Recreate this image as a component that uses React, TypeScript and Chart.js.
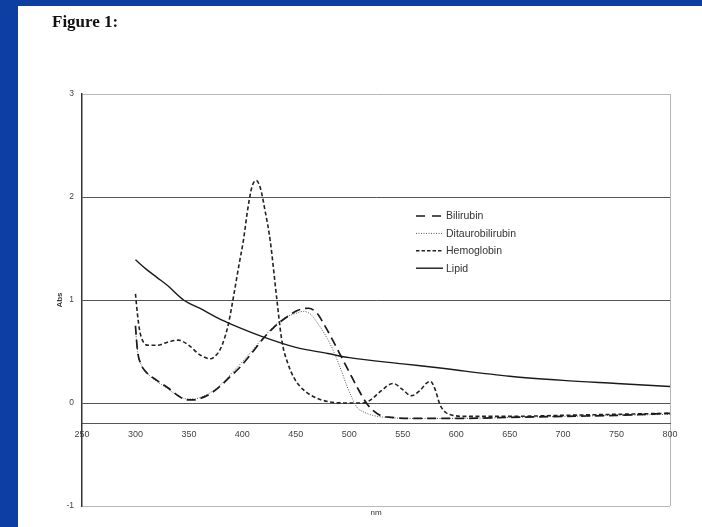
import React, { useEffect, useRef } from "react";
import { Chart, registerables } from "chart.js";

Chart.register(...registerables);

// ---- data ----
const bilirubinNm = [300, 302, 305, 310, 320, 330, 340, 348, 355, 362, 370, 380, 390, 398, 410, 419, 430, 441, 452, 462, 470, 476, 484, 491, 500, 507, 516, 522, 529, 540, 560, 580, 600, 650, 700, 750, 800];
const bilirubinAbs = [0.75, 0.5, 0.38, 0.3, 0.22, 0.15, 0.07, 0.03, 0.03, 0.05, 0.09, 0.17, 0.27, 0.35, 0.5, 0.62, 0.74, 0.83, 0.9, 0.92, 0.87, 0.77, 0.62, 0.48, 0.3, 0.16, 0.0, -0.07, -0.12, -0.14, -0.15, -0.15, -0.15, -0.14, -0.13, -0.12, -0.1];

const ditauroNm = [300, 302, 305, 310, 320, 330, 340, 348, 355, 362, 370, 380, 390, 400, 410, 420, 430, 440, 450, 457, 464, 470, 477, 485, 492, 498, 503, 507, 514, 522, 535, 560, 600, 650, 700, 750, 800];
const ditauroAbs = [0.72, 0.5, 0.38, 0.3, 0.21, 0.14, 0.07, 0.04, 0.04, 0.06, 0.1, 0.18, 0.29, 0.4, 0.52, 0.64, 0.75, 0.83, 0.87, 0.89, 0.86, 0.78, 0.67, 0.51, 0.33, 0.16, 0.04, -0.04, -0.09, -0.12, -0.14, -0.15, -0.15, -0.14, -0.13, -0.12, -0.11];

const hemoglobinNm = [300, 302, 304, 307, 312, 320, 330, 340, 350, 360, 370, 376, 381, 387, 392, 397, 401, 405, 409, 413, 417, 421, 426, 432, 437, 442, 448, 454, 465, 482, 500, 513, 520, 530, 541, 550, 558, 566, 572, 576, 580, 585, 590, 597, 610, 650, 700, 750, 800];
const hemoglobinAbs = [1.06, 0.85, 0.7, 0.6, 0.56, 0.56, 0.59, 0.61, 0.56, 0.47, 0.43, 0.47, 0.56, 0.77, 1.05, 1.35, 1.58, 1.88, 2.1, 2.16, 2.08, 1.88, 1.58, 1.03, 0.6, 0.4, 0.25, 0.16, 0.07, 0.01, 0.0, 0.0, 0.03, 0.12, 0.19, 0.13, 0.07, 0.12, 0.19, 0.21, 0.14, -0.02, -0.09, -0.12, -0.13, -0.13, -0.12, -0.11, -0.1];

const lipidNm = [300, 310, 320, 330, 345, 360, 380, 400, 420, 450, 480, 500, 550, 585, 600, 650, 700, 750, 800];
const lipidAbs = [1.39, 1.3, 1.22, 1.14, 1.0, 0.92, 0.81, 0.72, 0.64, 0.54, 0.48, 0.44, 0.38, 0.34, 0.32, 0.26, 0.22, 0.19, 0.16];

const seriesLabels = ["Bilirubin", "Ditaurobilirubin", "Hemoglobin", "Lipid"];
const xMin = 250;
const xMax = 800;
const xStep = 50;
const yMin = -1;
const yMax = 3;
const yStep = 1;
const xAxisCross = -0.2;

const toPoints = (xs: number[], ys: number[]) => xs.map((x, i) => ({ x, y: ys[i] }));

const legendPlugin = {
  id: "sideLegend",
  afterDraw(chart: any) {
    const ctx = chart.ctx;
    const x0 = 416;
    const x1 = 443;
    const y0 = 216;
    const dy = 17.4;
    ctx.save();
    chart.data.datasets.forEach((ds: any, i: number) => {
      const y = y0 + i * dy;
      ctx.beginPath();
      ctx.setLineDash(ds.legendDash || ds.borderDash || []);
      ctx.lineWidth = ds.borderWidth;
      ctx.strokeStyle = ds.borderColor;
      ctx.moveTo(x0, y);
      ctx.lineTo(x1, y);
      ctx.stroke();
      ctx.setLineDash([]);
      ctx.fillStyle = "#333";
      ctx.font = "10.5px 'Liberation Sans', Arial, sans-serif";
      ctx.textBaseline = "middle";
      ctx.textAlign = "left";
      ctx.fillText(ds.label, x1 + 3, y + 0.5);
    });
    ctx.restore();
  },
};

export default function App() {
  const canvasRef = useRef<HTMLCanvasElement | null>(null);

  useEffect(() => {
    if (!canvasRef.current) return;
    const chart = new Chart(canvasRef.current, {
      type: "line",
      data: {
        datasets: [
          {
            label: seriesLabels[0],
            data: toPoints(bilirubinNm, bilirubinAbs),
            borderColor: "#1a1a1a",
            borderWidth: 1.7,
            borderDash: [9, 5],
            legendDash: [9, 7],
          } as any,
          {
            label: seriesLabels[1],
            data: toPoints(ditauroNm, ditauroAbs),
            borderColor: "#555",
            borderWidth: 1,
            borderDash: [1, 1.5],
          },
          {
            label: seriesLabels[2],
            data: toPoints(hemoglobinNm, hemoglobinAbs),
            borderColor: "#222",
            borderWidth: 1.6,
            borderDash: [4, 2.5],
            legendDash: [3.5, 2],
          } as any,
          {
            label: seriesLabels[3],
            data: toPoints(lipidNm, lipidAbs),
            borderColor: "#1a1a1a",
            borderWidth: 1.4,
          },
        ],
      },
      options: {
        animation: false,
        responsive: false,
        maintainAspectRatio: false,
        parsing: false as any,
        layout: { padding: { left: 0, top: 94, right: 32, bottom: 0 } },
        elements: {
          point: { radius: 0 },
          line: { tension: 0.4, cubicInterpolationMode: "monotone", fill: false },
        },
        plugins: {
          legend: { display: false },
          tooltip: { enabled: false },
        },
        scales: {
          x: {
            type: "linear",
            position: { y: xAxisCross } as any,
            min: xMin,
            max: xMax,
            grid: { display: false, drawTicks: false },
            border: { display: true, color: "#555", width: 1 },
            ticks: {
              stepSize: xStep,
              autoSkip: false,
              maxRotation: 0,
              padding: 6,
              color: "#444",
              font: { family: "'Liberation Sans', Arial, sans-serif", size: 9 },
            },
          },
          x2: {
            type: "linear",
            position: "bottom",
            min: xMin,
            max: xMax,
            grid: {
              drawTicks: false,
              color: (c: any) => (c.tick && c.tick.value === xMax ? "#b5b5b5" : "rgba(0,0,0,0)"),
              lineWidth: 1,
            },
            border: { display: false },
            ticks: { display: false, stepSize: xStep },
            title: {
              display: true,
              text: "nm",
              color: "#333",
              padding: { top: 0, bottom: 9 },
              font: { family: "'Liberation Sans', Arial, sans-serif", size: 8 },
            },
            afterFit: (scale: any) => {
              scale.height = 21;
            },
          },
          y: {
            type: "linear",
            position: "left",
            min: yMin,
            max: yMax,
            grid: {
              drawTicks: false,
              color: (c: any) =>
                c.tick && (c.tick.value === yMax || c.tick.value === yMin) ? "#b8b8b8" : "#555",
              lineWidth: 1,
            },
            border: { display: true, color: "#333", width: 1.5 },
            ticks: {
              stepSize: yStep,
              padding: 8,
              color: "#444",
              font: { family: "'Liberation Sans', Arial, sans-serif", size: 8.5 },
            },
            title: {
              display: true,
              text: "Abs",
              color: "#333",
              padding: { top: 55, bottom: 0 },
              font: { family: "'Liberation Sans', Arial, sans-serif", size: 8, weight: "bold" },
            },
            afterFit: (scale: any) => {
              scale.width = 82;
            },
          },
        },
      },
      plugins: [legendPlugin],
    } as any);
    return () => chart.destroy();
  }, []);

  return (
    <div
      style={{
        position: "absolute",
        left: 0,
        top: 0,
        width: 702,
        height: 527,
        background: "#ffffff",
        overflow: "hidden",
      }}
    >
      <canvas
        ref={canvasRef}
        width={702}
        height={527}
        style={{ position: "absolute", left: 0, top: 0, width: 702, height: 527 }}
      />
      <div style={{ position: "absolute", left: 0, top: 0, width: 18, height: 527, background: "#0d3fa2" }} />
      <div style={{ position: "absolute", left: 0, top: 0, width: 702, height: 6, background: "#0d3fa2" }} />
      <div
        style={{
          position: "absolute",
          left: 52,
          top: 12,
          fontFamily: "'Liberation Serif', 'Times New Roman', serif",
          fontWeight: "bold",
          fontSize: 17,
          color: "#111",
          whiteSpace: "nowrap",
        }}
      >
        Figure 1:
      </div>
    </div>
  );
}
